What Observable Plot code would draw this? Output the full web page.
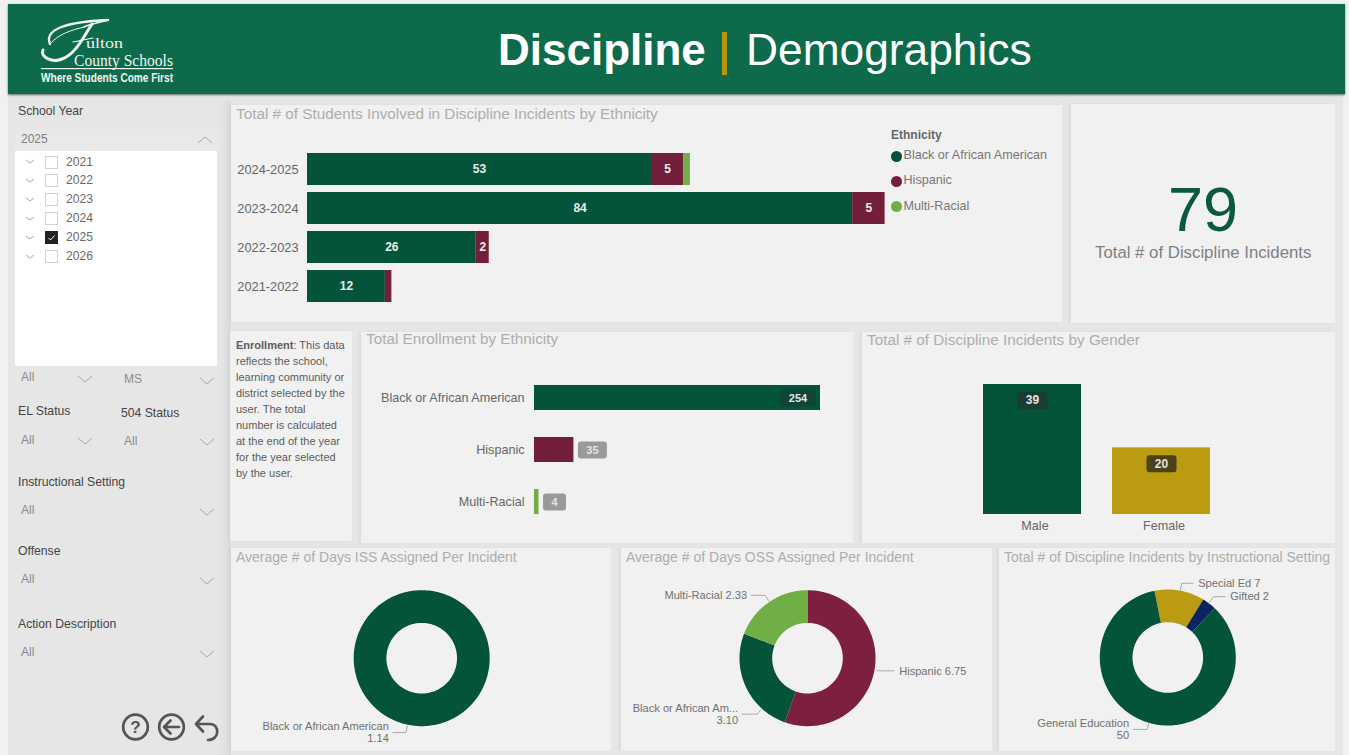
<!DOCTYPE html>
<html>
<head>
<meta charset="utf-8">
<title>Discipline | Demographics</title>
<script src="https://cdn.jsdelivr.net/npm/d3@7"></script>
<script src="https://cdn.jsdelivr.net/npm/@observablehq/plot@0.6"></script>
<style>
html,body{margin:0;padding:0;background:#f1f1f1;}
#page{position:relative;width:1349px;height:755px;overflow:hidden;font-family:"Liberation Sans",Arial,sans-serif;}
.txt{position:absolute;white-space:nowrap;transform:translateY(-50%);line-height:1;}
.panel{position:absolute;background:#f1f1f1;box-shadow:-2px 0 3px rgba(0,0,0,.05);}
.ptitle{position:absolute;left:5px;line-height:17px;color:#adadad;white-space:nowrap;}
.panel svg{position:absolute;left:0;top:0;max-width:none;background:transparent;}
</style>
</head>
<body>
<div id="page"></div>
<script>
// ---------- data ----------
const ethnicities = ["Black or African American", "Hispanic", "Multi-Racial"];
const ethnicityColors = ["#04533b", "#741f3a", "#6faf45"];
const schoolYears = ["2024-2025", "2023-2024", "2022-2023", "2021-2022"];
const studentsBlack = [53, 84, 26, 12];
const studentsHispanic = [5, 5, 2, 1];
const studentsMulti = [1, 0, 0, 0];
const enrollment = [254, 35, 4];
const genders = ["Male", "Female"];
const genderCounts = [39, 20];
const genderColors = ["#04533b", "#bb9b12"];
const issLabels = ["Black or African American"];
const issValues = [1.14];
const ossLabels = ["Hispanic", "Black or African Am...", "Multi-Racial"];
const ossValues = [6.75, 3.10, 2.33];
const ossColors = ["#7c1f41", "#04533b", "#6faf45"];
const settingLabels = ["Special Ed", "Gifted", "General Education"];
const settingValues = [7, 2, 50];
const settingColors = ["#bb9b12", "#0b2560", "#04533b"];
const totalIncidents = 79;
const filterYears = ["2021", "2022", "2023", "2024", "2025", "2026"];
const noteLines = ["<b>Enrollment</b>: This data", "reflects the school,", "learning community or", "district selected by the", "user. The total", "number is calculated", "at the end of the year", "for the year selected", "by the user."];

// ---------- helpers ----------
const page = document.getElementById("page");
const FONT = '"Liberation Sans",Arial,sans-serif';
function el(html){const t=document.createElement("template");t.innerHTML=html.trim();const n=t.content.firstChild;page.appendChild(n);return n;}
function txt(x,y,s,size,color,extra=""){el(`<div class="txt" style="left:${x}px;top:${y}px;font-size:${size}px;color:${color};${extra}">${s}</div>`);}
function chev(x,y,up=false,w=7,h=6,c="#a8a8a8"){const d=up?`M1 ${h+1} L${w+1} 1 L${2*w+1} ${h+1}`:`M1 1 L${w+1} ${h+1} L${2*w+1} 1`;
  el(`<svg style="position:absolute;left:${x-w-1}px;top:${y-h/2-1}px" width="${2*w+2}" height="${h+2}"><path d="${d}" fill="none" stroke="${c}" stroke-width="1"/></svg>`);}
function box(x,y,w,h,bg,extra=""){return el(`<div style="position:absolute;left:${x}px;top:${y}px;width:${w}px;height:${h}px;background:${bg};${extra}"></div>`);}
function panel(x,y,w,h,title,size=15.3,top=0){const p=el(`<div class="panel" style="left:${x}px;top:${y}px;width:${w}px;height:${h}px"></div>`);
  if(title){const t=document.createElement("div");t.className="ptitle";t.style.fontSize=size+"px";t.style.top=top+"px";t.textContent=title;p.appendChild(t);}return p;}
const rrect=(w,h,r)=>({draw(c){const x=-w/2,y=-h/2;c.moveTo(x+r,y);c.arcTo(x+w,y,x+w,y+h,r);c.arcTo(x+w,y+h,x,y+h,r);c.arcTo(x,y+h,x,y,r);c.arcTo(x,y,x+w,y,r);c.closePath();}});

// ---------- canvas, header ----------
box(8,4,1335,751,"#e6e6e6");
box(8,4,1337,90,"#0d6b4c","box-shadow:0 1px 2px rgba(0,0,0,.55)");
txt(498,50,"Discipline",44,"#fff","font-weight:bold;");
box(722,32,4.5,43,"#b8950f");
txt(746,50,"Demographics",44.3,"#fff");
el(`<svg style="position:absolute;left:30px;top:10px" width="200" height="80" viewBox="30 10 200 80">
 <g fill="none" stroke="#eef5f1" stroke-linecap="round">
  <path d="M50 44 C44 30 64 22 108 20" stroke-width="2.4"/>
  <path d="M50 44 C58 34 72 30 84 27" stroke-width="1"/>
  <path d="M92 24 C84 36 76 54 62 59 C52 63 40 57 43 50" stroke-width="3"/>
  <path d="M84 27 C90 24 98 23 108 20" stroke-width="1.5"/>
  <path d="M73 42 L93 38" stroke-width="1.2"/>
 </g>
 <rect x="41" y="68" width="132" height="1.2" fill="#eef5f1"/>
 <g fill="#eef5f1">
  <text x="86" y="47.5" font-family="Liberation Serif" font-size="15" textLength="37" lengthAdjust="spacingAndGlyphs">ulton</text>
  <text x="74" y="66" font-family="Liberation Serif" font-size="17" textLength="99" lengthAdjust="spacingAndGlyphs">County Schools</text>
  <text x="41" y="81.5" font-family="Liberation Sans" font-weight="bold" font-size="12.5" textLength="132" lengthAdjust="spacingAndGlyphs">Where Students Come First</text>
 </g></svg>`);

// ---------- sidebar ----------
box(220,100,11,655,"linear-gradient(to right,#e6e6e6,#dadada)");
txt(18,111,"School Year",12.2,"#444");
box(15,129,202,22,"#e9e9e9");
txt(21,139,"2025",12,"#808080");
chev(205,140,true);
box(15,151,202,215,"#fff");
filterYears.forEach((yr,i)=>{
  const y=161.5+i*18.9, on=yr==="2025";
  chev(30,y,false,4,3,"#aaa");
  box(45,y-6,11,11,on?"#222":"#fff",`border:1px solid ${on?"#222":"#d0d0d0"}`);
  if(on) el(`<svg style="position:absolute;left:45px;top:${y-6}px" width="13" height="13"><path d="M3.5 7 L5.5 9 L9.5 4.5" stroke="#eee" fill="none" stroke-width="1"/></svg>`);
  txt(66,y,yr,12.2,"#6a6a6a");
});
const slicers=[
 [21,377,"All",85,379],[124,379,"MS",207,381],
 [21,439.5,"All",85,441],[124,441,"All",207,442],
 [21,510,"All",207,512],[21,579,"All",207,581],[21,652,"All",207,654]];
slicers.forEach(([x,y,s,cx,cy])=>{txt(x,y,s,12,"#8a8a8a");chev(cx,cy);});
[[18,411,"EL Status"],[121,412.5,"504 Status"],[18,482,"Instructional Setting"],[18,551,"Offense"],[18,624,"Action Description"]]
 .forEach(([x,y,s])=>txt(x,y,s,12.2,"#444"));
el(`<svg style="position:absolute;left:118px;top:710px" width="104" height="36" fill="none" stroke="#555" stroke-width="2.7" stroke-linecap="round" stroke-linejoin="round">
 <circle cx="17.5" cy="17" r="12.3"/><text x="17.5" y="23" text-anchor="middle" font-family="Liberation Sans" font-weight="bold" font-size="17" fill="#555" stroke="none">?</text>
 <circle cx="53.5" cy="17" r="12.3"/><path d="M61 17 H47 M52.5 10.5 L46 17 L52.5 23.5"/>
 <path d="M78 14 H92 C102 14 102 30 90 30 M85 6.5 L78 14 L85 21.5"/></svg>`);

// ---------- chart 1: stacked bars ----------
const studentRows = schoolYears.flatMap((yr,i)=>[
  {year:yr,eth:ethnicities[0],value:studentsBlack[i]},
  {year:yr,eth:ethnicities[1],value:studentsHispanic[i]},
  {year:yr,eth:ethnicities[2],value:studentsMulti[i]}]);
const p1=panel(231,105,831,217,"Total # of Students Involved in Discipline Incidents by Ethnicity",15.3,0);
p1.appendChild(Plot.plot({
  width:831,height:217,marginLeft:76,marginRight:177.4,marginTop:40.2,marginBottom:12.3,
  style:{background:"transparent",fontFamily:FONT},
  x:{domain:[0,89],axis:null},
  y:{domain:schoolYears,padding:.186,label:null},
  color:{domain:ethnicities,range:ethnicityColors},
  marks:[
    Plot.barX(studentRows,{x:"value",y:"year",fill:"eth"}),
    Plot.text(studentRows,Plot.stackX({x:"value",y:"year",text:d=>d.value>=2?String(d.value):"",fill:"#e8eeea",fontSize:12,fontWeight:"bold"})),
    Plot.axisY({tickSize:0,tickPadding:9,fontSize:12.8,color:"#666",fill:"#666",label:null})
  ]}));
txt(891,135,"Ethnicity",12,"#666","font-weight:bold;");
ethnicities.forEach((e,i)=>{
  const y=[155,180,205.5][i];
  el(`<div style="position:absolute;left:891px;top:${y-4.5}px;width:11px;height:11px;border-radius:50%;background:${ethnicityColors[i]}"></div>`);
  txt(903.5,y,e,12.6,"#777");
});

// ---------- KPI card ----------
panel(1071,104,264,219);
txt(1168,209,String(totalIncidents),63,"#0a5a43");
txt(1095,253,"Total # of Discipline Incidents",16.8,"#808080");

// ---------- note ----------
panel(230,331,122,210);
noteLines.forEach((l,i)=>txt(236,344.5+i*16.1,l,11,"#5c5c5c"));

// ---------- chart 2: enrollment ----------
const enrollRows=ethnicities.map((e,i)=>({eth:e,value:enrollment[i]}));
const badgeFor=v=>v>=100?{dx:-22.5,w:35,fill:"#0f4436",color:"#e6e6e6"}:{dx:v>=10?18.5:15.5,w:v>=10?29:23,fill:"#9a9a9a",color:"#e4e4e4"};
const p2=panel(361,332,492,211,"Total Enrollment by Ethnicity",15.3,-2);
p2.appendChild(Plot.plot({
  width:492,height:211,marginLeft:173,marginRight:33,marginTop:25.5,marginBottom:2,
  style:{background:"transparent",fontFamily:FONT},
  x:{domain:[0,254],axis:null},
  y:{domain:ethnicities,padding:.51,label:null},
  color:{domain:ethnicities,range:ethnicityColors},
  marks:[
    Plot.barX(enrollRows,{x:"value",y:"eth",fill:"eth"}),
    ...enrollRows.flatMap(d=>{const b=badgeFor(d.value);return [
      Plot.dot([d],{x:"value",y:"eth",dx:b.dx,symbol:rrect(b.w,17,3),fill:b.fill}),
      Plot.text([d],{x:"value",y:"eth",dx:b.dx,text:r=>String(r.value),fill:b.color,fontSize:11,fontWeight:"bold"})];}),
    Plot.axisY({tickSize:0,tickPadding:10,fontSize:12.6,color:"#666",fill:"#666",label:null})
  ]}));

// ---------- chart 3: gender ----------
const genderRows=genders.map((g,i)=>({gender:g,value:genderCounts[i]}));
const genderBadge=["#1b3c30","#4d4118"];
const p3=panel(862,332,473,211,"Total # of Discipline Incidents by Gender",15.3,-1.5);
p3.appendChild(Plot.plot({
  width:473,height:211,marginLeft:89.5,marginRight:93.5,marginTop:52,marginBottom:29,
  style:{background:"transparent",fontFamily:FONT},
  x:{domain:genders,padding:.24,label:null},
  y:{domain:[0,39],axis:null},
  color:{domain:genders,range:genderColors},
  marks:[
    Plot.barY(genderRows,{x:"gender",y:"value",fill:"gender"}),
    ...genderRows.flatMap((d,i)=>[
      Plot.dot([d],{x:"gender",y:"value",dy:16,symbol:rrect(30,17,3),fill:genderBadge[i]}),
      Plot.text([d],{x:"gender",y:"value",dy:16,text:r=>String(r.value),fill:"#e4e4e4",fontSize:12,fontWeight:"bold"})]),
    Plot.axisX({tickSize:0,tickPadding:7,dx:2.5,fontSize:12.6,color:"#666",fill:"#666",label:null})
  ]}));

// ---------- donuts ----------
const R=68, INNER=35.3/68;
function ring(name,a0,a1,fill){
  const n=Math.max(2,Math.ceil((a1-a0)/(Math.PI/120)));
  const ts=d3.range(n+1).map(i=>a0+(a1-a0)*i/n);
  const pt=r=>t=>({name,fill,x:r*Math.sin(t),y:-r*Math.cos(t)});
  return [...ts.map(pt(1)),...ts.slice().reverse().map(pt(INNER))];
}
function donut({px,py,w,h,cx,cy,title,labels,values,colors,start=0,text,leaders}){
  const pie=d3.pie().sort(null).startAngle(start).endAngle(start+2*Math.PI)(values);
  const slices=pie.flatMap((s,i)=>ring(labels[i],s.startAngle,s.endAngle,colors[i]));
  const lines=[],texts=[];
  leaders.forEach((l,i)=>{
    const a=l.angle*Math.PI/180,dir=l.side;
    const rim=[l.r0*Math.sin(a),-l.r0*Math.cos(a)],elb=[l.r1*Math.sin(a),-l.r1*Math.cos(a)],end=[elb[0]+dir*l.run/R,elb[1]];
    [rim,elb,end].forEach(p=>lines.push({k:i,x:p[0],y:p[1]}));
    texts.push({x:end[0],y:end[1],s:text[i],side:dir});
  });
  const p=panel(px,py,w,h,title,14,0.5);
  p.appendChild(Plot.plot({
    width:w,height:h,margin:0,
    style:{background:"transparent",fontFamily:FONT},
    x:{domain:[(px-cx)/R,(px+w-cx)/R],range:[0,w],axis:null},
    y:{domain:[(py-cy)/R,(py+h-cy)/R],range:[0,h],axis:null},
    marks:[
      Plot.line(slices,{x:"x",y:"y",z:"name",fill:"fill",stroke:null}),
      Plot.line(lines,{x:"x",y:"y",z:"k",stroke:"#aaaaaa",strokeWidth:1}),
      Plot.text(texts.filter(t=>t.side<0),{x:"x",y:"y",text:"s",dx:-4,textAnchor:"end",fontSize:11.1,fill:"#707070",lineHeight:1.05}),
      Plot.text(texts.filter(t=>t.side>0),{x:"x",y:"y",text:"s",dx:5,textAnchor:"start",fontSize:11.1,fill:"#707070",lineHeight:1.05})
    ]}));
}
donut({px:231,py:548,w:380,h:203,cx:421.2,cy:657.7,title:"Average # of Days ISS Assigned Per Incident",
  labels:issLabels,values:issValues,colors:[ethnicityColors[0]],
  text:issLabels.map((l,i)=>`${l}\n${issValues[i].toFixed(2)}`),
  leaders:[{angle:192,r0:1.02,r1:1.118,run:13,side:-1}]});
donut({px:621,py:548,w:371,h:203,cx:807,cy:657.7,title:"Average # of Days OSS Assigned Per Incident",
  labels:ossLabels,values:ossValues,colors:ossColors,
  text:[`${ossLabels[0]} ${ossValues[0].toFixed(2)}`,`${ossLabels[1]}\n${ossValues[1].toFixed(2)}`,`${ossLabels[2]} ${ossValues[2].toFixed(2)}`],
  leaders:[{angle:100,r0:1.045,r1:1.07,run:15,side:1},{angle:222,r0:1.023,r1:1.107,run:15,side:-1},{angle:326,r0:1.024,r1:1.116,run:14,side:-1}]});
donut({px:999,py:548,w:336,h:203,cx:1167.3,cy:657,title:"Total # of Discipline Incidents by Instructional Setting",
  labels:settingLabels,values:settingValues,colors:settingColors,start:-11.3*Math.PI/180,
  text:[`${settingLabels[0]} ${settingValues[0]}`,`${settingLabels[1]} ${settingValues[1]}`,`${settingLabels[2]}\n${settingValues[2]}`],
  leaders:[{angle:10.6,r0:1.01,r1:1.11,run:11.5,side:1},{angle:37,r0:1.0,r1:1.12,run:11.5,side:1},{angle:196,r0:1.01,r1:1.1,run:14,side:-1}]});
</script>
</body>
</html>
